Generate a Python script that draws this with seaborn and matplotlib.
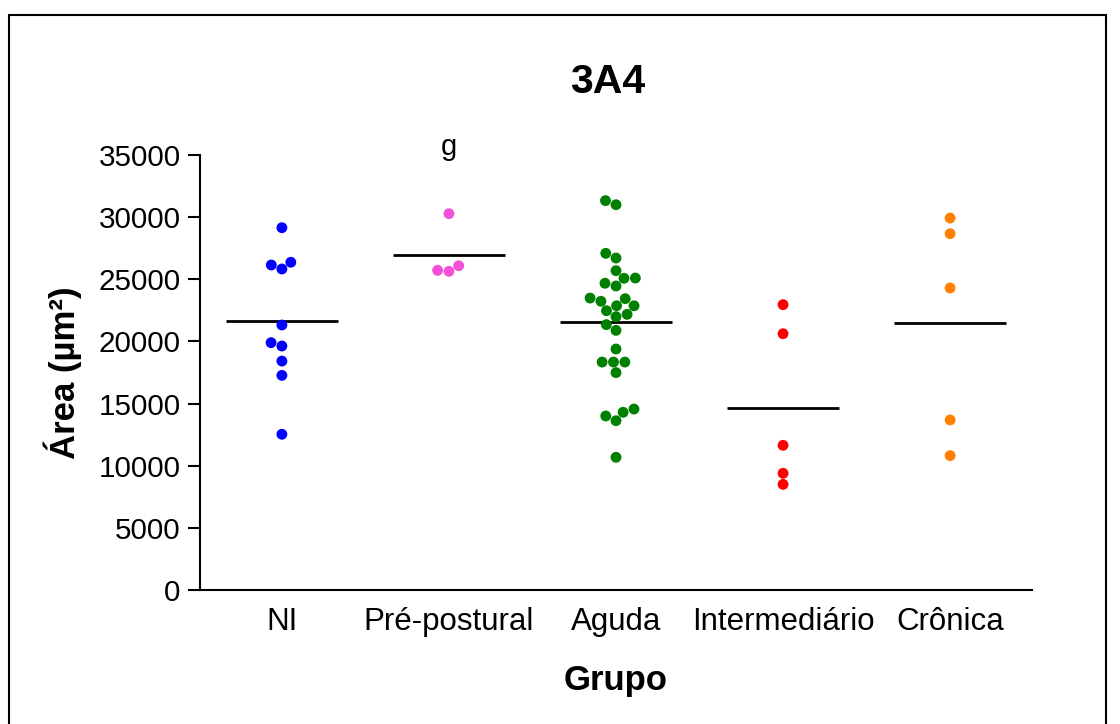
import pandas as pd
import matplotlib.pyplot as plt
import seaborn as sns
from matplotlib.lines import Line2D

# Valores (área em µm²)
grupos = ['NI', 'Pré-postural', 'Aguda', 'Intermediário', 'Crônica']
area_ni = [29150, 26150, 25830, 26370, 21320, 19900, 19630, 18420, 17270, 12530]
area_pre = [30280, 26090, 25640, 25720]
area_aguda = [31000, 31330, 27090, 26710, 25690, 25100, 25080, 24680, 24460,
              23490, 23230, 23440, 22870, 22870, 22470, 22180, 21990, 21350,
              20890, 19390, 18340, 18340, 18340, 17490, 14560, 14000, 13620,
              14300, 10680]
area_inter = [22960, 20620, 11640, 9390, 8500]
area_cronica = [29930, 28670, 24300, 13680, 10810]
cores = ['#0000FF', '#F44FD8', '#008000', '#FF0000', '#FF8000']
anotacao = 'g'

# Tabela longa para o seaborn
df = pd.concat([
    pd.DataFrame({'Grupo': g, 'Area': v})
    for g, v in zip(grupos, [area_ni, area_pre, area_aguda, area_inter, area_cronica])
], ignore_index=True)

sns.set_theme(style="ticks")
plt.rcParams['font.family'] = ['Liberation Sans', 'DejaVu Sans']
plt.rcParams['text.color'] = 'black'
plt.rcParams['axes.labelcolor'] = 'black'

fig = plt.figure(figsize=(11.2, 7.24), dpi=100)
ax = fig.add_axes([0.1786, 0.1851, 0.7428, 0.6008])

# Pontos individuais
sns.swarmplot(data=df, x='Grupo', y='Area', hue='Grupo', order=grupos,
              hue_order=grupos, palette=cores, size=7.8, legend=False, ax=ax)

# Linha da média de cada grupo
sns.pointplot(data=df, x='Grupo', y='Area', order=grupos, estimator='mean',
              errorbar=None, linestyle='none', marker='_', markersize=80,
              markeredgewidth=2, color='black', ax=ax)

ax.set_xlim(-0.49, 4.49)
ax.set_ylim(0, 35000)
ax.set_yticks(range(0, 35001, 5000))
sns.despine(ax=ax)
for lado in ['left', 'bottom']:
    ax.spines[lado].set_linewidth(1.5)
    ax.spines[lado].set_color('black')
ax.tick_params(axis='y', length=9, width=1.5, pad=5, labelsize=21.3, colors='black')
ax.tick_params(axis='x', length=0, pad=12, labelsize=22.5, colors='black')

ax.set_title('3A4', fontsize=29.5, fontweight='bold', pad=45, x=0.49)
ax.set_xlabel('Grupo', fontsize=25, fontweight='bold', labelpad=20)
ax.set_ylabel('Área (µm²)', fontsize=25, fontweight='bold', labelpad=12)

# Anotação de significância
ax.text(1, 35000, anotacao, ha='center', va='baseline', fontsize=21, clip_on=False)

# Moldura da figura
for xs, ys in [([0.008, 0.008], [0.0, 0.979]), ([0.008, 0.9875], [0.979, 0.979]),
               ([0.9875, 0.9875], [0.0, 0.979])]:
    fig.add_artist(Line2D(xs, ys, color='black', linewidth=1.5, transform=fig.transFigure))

fig.savefig('out.png', dpi=100)
